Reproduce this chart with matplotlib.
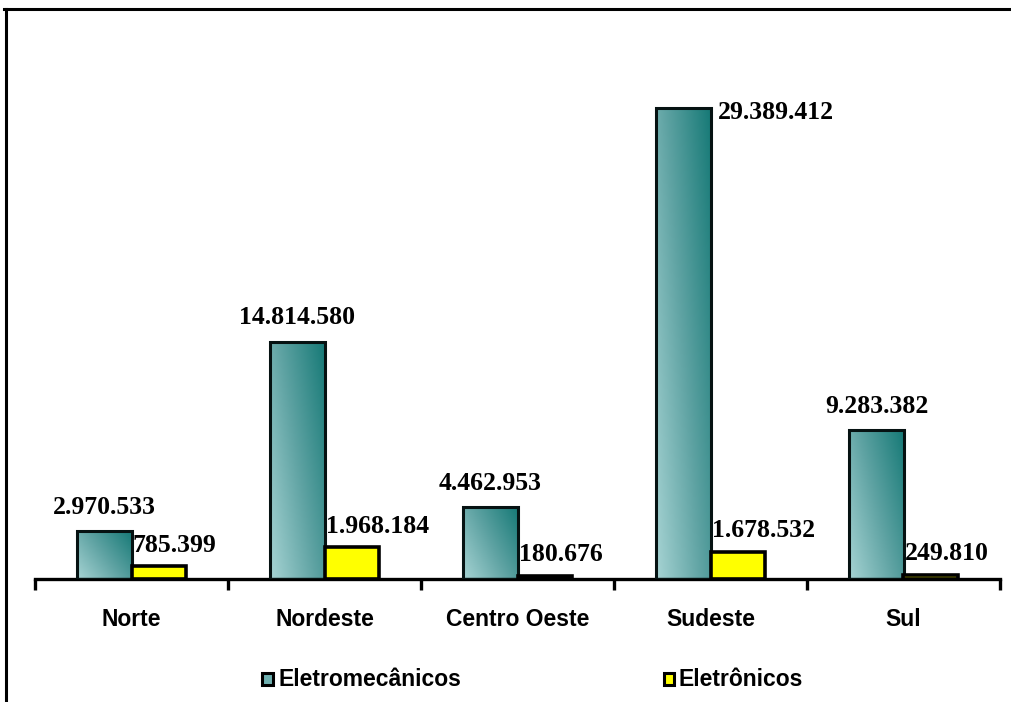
import numpy as np
import matplotlib
matplotlib.use("Agg")
import matplotlib.pyplot as plt
from matplotlib.colors import LinearSegmentedColormap
from matplotlib.patches import Rectangle
from matplotlib.lines import Line2D

regioes = ["Norte", "Nordeste", "Centro Oeste", "Sudeste", "Sul"]
eletromecanicos = [2970533, 14814580, 4462953, 29389412, 9283382]
eletronicos = [785399, 1968184, 180676, 1678532, 249810]
rotulos_eletromec = ["2.970.533", "14.814.580", "4.462.953", "29.389.412", "9.283.382"]
rotulos_eletron = ["785.399", "1.968.184", "180.676", "1.678.532", "249.810"]
series = ["Eletromecânicos", "Eletrônicos"]

W, H = 1012, 702
fig = plt.figure(figsize=(W / 100, H / 100), dpi=100)
fig.patch.set_facecolor("white")

# outer frame: top and left borders only
fig.add_artist(Line2D([4 / W, 1.0], [1 - 9 / H, 1 - 9 / H], color="black", lw=2.2,
                      transform=fig.transFigure))
fig.add_artist(Line2D([6 / W, 6 / W], [0.0, 1 - 9 / H], color="black", lw=2.2,
                      transform=fig.transFigure))

ax = fig.add_axes([35 / W, 123 / H, (1000 - 35) / W, (636 - 123) / H])
ymax = 32.0e6
ax.set_xlim(-0.5, len(regioes) - 0.5)
ax.set_ylim(0, ymax)

for s in ["top", "right", "left"]:
    ax.spines[s].set_visible(False)
ax.spines["bottom"].set_linewidth(2.4)
ax.set_yticks([])
ax.set_xticks(np.arange(len(regioes)))
ax.set_xticklabels(regioes, fontfamily="Liberation Sans", fontweight="bold", fontsize=16.5)
ax.tick_params(axis="x", which="major", length=0, pad=21)
ax.set_xticks(np.arange(len(regioes) + 1) - 0.5, minor=True)
ax.tick_params(axis="x", which="minor", length=8, width=2.4, direction="out")

bw = 0.28
x = np.arange(len(regioes))

teal = LinearSegmentedColormap.from_list("teal", ["#a6d3d3", "#5fa3a3", "#177a77"])
gu, gv = np.meshgrid(np.linspace(0, 1, 64), np.linspace(0, 1, 64))
grad = 0.6 * gu + 0.4 * gv

bars1 = ax.bar(x - bw / 2, eletromecanicos, width=bw, color="none",
               edgecolor="#061212", linewidth=2.2, zorder=3)
for b in bars1:
    x0, y0 = b.get_x(), b.get_y()
    im = ax.imshow(grad, cmap=teal, origin="lower", aspect="auto",
                   extent=[x0, x0 + b.get_width(), y0, y0 + b.get_height()],
                   zorder=2, interpolation="bilinear")
    im.set_clip_path(b)
ax.set_xlim(-0.5, len(regioes) - 0.5)
ax.set_ylim(0, ymax)

bars2 = ax.bar(x + bw / 2, eletronicos, width=bw, color="#ffff00",
               edgecolor="black", linewidth=2.6, zorder=3)

vfont = dict(fontfamily="Liberation Serif", fontweight="bold", fontsize=18.5)
for i, (b, lab) in enumerate(zip(bars1, rotulos_eletromec)):
    top = b.get_height()
    if top > 0.85 * ymax:
        ax.annotate(lab, (b.get_x() + b.get_width(), top), xytext=(5, -3),
                    textcoords="offset points", ha="left", va="center", **vfont)
    else:
        ax.annotate(lab, (b.get_x() + b.get_width() / 2, top), xytext=(0, 9),
                    textcoords="offset points", ha="center", va="bottom", **vfont)
for b, lab in zip(bars2, rotulos_eletron):
    ax.annotate(lab, (b.get_x(), b.get_height()), xytext=(1, 7),
                textcoords="offset points", ha="left", va="bottom", **vfont)

# legend
lfont = dict(fontfamily="Liberation Sans", fontweight="bold", fontsize=16.5)
ly = 1 - 679 / H
fig.add_artist(Rectangle((262 / W, 1 - 685 / H), 11 / W, 12 / H, transform=fig.transFigure,
                         facecolor="#6fb0b0", edgecolor="black", linewidth=2.2))
fig.text(279 / W, ly, series[0], ha="left", va="center", **lfont)
fig.add_artist(Rectangle((664 / W, 1 - 685 / H), 10 / W, 12 / H, transform=fig.transFigure,
                         facecolor="#ffff00", edgecolor="black", linewidth=2.2))
fig.text(679 / W, ly, series[1], ha="left", va="center", **lfont)

fig.savefig("out.png", dpi=100, facecolor="white")
